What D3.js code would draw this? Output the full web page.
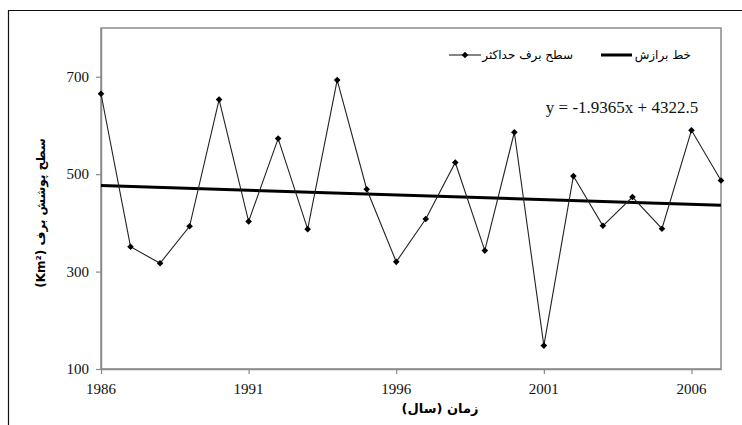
<!DOCTYPE html>
<html>
<head>
<meta charset="utf-8">
<script src="https://cdn.jsdelivr.net/npm/d3@7"></script>
<style>
  body { margin: 0; background: #fff; }
  svg { display: block; }
  .serif { font-family: 'Liberation Serif', 'Times New Roman', 'DejaVu Serif', serif; }
  .fa { font-family: 'DejaVu Sans', sans-serif; }
</style>
</head>
<body>
<svg width="742" height="425"></svg>
<script>
// data
const years = [1986, 1987, 1988, 1989, 1990, 1991, 1992, 1993, 1994, 1995, 1996,
               1997, 1998, 1999, 2000, 2001, 2002, 2003, 2004, 2005, 2006, 2007];
const snowArea = [665, 351, 317, 393, 653, 403, 573, 387, 693, 469, 320,
                  408, 524, 343, 586, 148, 496, 394, 453, 388, 590, 487];
const xTicks = [1986, 1991, 1996, 2001, 2006];
const yTicks = [100, 300, 500, 700];

// fitted line from the equation on the chart
const slope = -1.9365;
const intercept = 4322.5;
const trendYears = [1986, 2007];

const seriesLabel = 'سطح برف حداکثر';
const trendLabel = 'خط برازش';
const equationLabel = 'y = -1.9365x + 4322.5';
const xTitle = 'زمان (سال)';
const yTitle = 'سطح پوشش برف (Km²)';

const svg = d3.select('svg');
const width = +svg.attr('width');
const height = +svg.attr('height');

const gray = '#8a8a8a';

// outer frame (only top and left edges show)
svg.append('path')
    .attr('d', `M8.5,${height} V10.5 H${width}`)
    .attr('fill', 'none')
    .attr('stroke', '#111')
    .attr('stroke-width', 1.2);

const margin = { top: 28, right: 21, bottom: 56, left: 101 };
const innerWidth = width - margin.left - margin.right;
const innerHeight = height - margin.top - margin.bottom;

const g = svg.append('g')
    .attr('transform', `translate(${margin.left},${margin.top})`);

const x = d3.scaleLinear().domain([1986, 2007]).range([0, innerWidth]);
const y = d3.scaleLinear().domain([100, 800]).range([innerHeight, 0]);

// plot box
g.append('rect')
    .attr('width', innerWidth)
    .attr('height', innerHeight)
    .attr('fill', 'none')
    .attr('stroke', gray)
    .attr('stroke-width', 1.5);

// axes: lines and ticks from d3, labels drawn below from the same scales
const xAxis = g.append('g')
    .attr('transform', `translate(0,${innerHeight})`)
    .call(d3.axisBottom(x).tickValues(xTicks).tickFormat('').tickSize(5).tickSizeOuter(0));
const yAxis = g.append('g')
    .call(d3.axisLeft(y).tickValues(yTicks).tickFormat('').tickSize(5).tickSizeOuter(0));

[xAxis, yAxis].forEach(a => {
    a.select('.domain').attr('stroke', gray).attr('stroke-width', 1.5);
    a.selectAll('.tick line').attr('stroke', gray).attr('stroke-width', 1.2);
    a.selectAll('.tick text').remove();
});

g.selectAll('.xlab').data(xTicks)
    .enter().append('text')
        .attr('class', 'xlab serif')
        .attr('x', d => x(d))
        .attr('y', innerHeight + 25)
        .attr('text-anchor', 'middle')
        .attr('font-size', 15)
        .attr('fill', '#111')
        .text(d => d);

g.selectAll('.ylab').data(yTicks)
    .enter().append('text')
        .attr('class', 'ylab serif')
        .attr('x', -12)
        .attr('y', d => y(d) + 5)
        .attr('text-anchor', 'end')
        .attr('font-size', 15)
        .attr('fill', '#111')
        .text(d => d);

// trend line
g.append('line')
    .attr('x1', x(trendYears[0]))
    .attr('y1', y(slope * trendYears[0] + intercept))
    .attr('x2', x(trendYears[1]))
    .attr('y2', y(slope * trendYears[1] + intercept))
    .attr('stroke', '#000')
    .attr('stroke-width', 3);

// data series
const pts = years.map((yr, i) => ({ yr, v: snowArea[i] }));
g.append('path')
    .datum(pts)
    .attr('fill', 'none')
    .attr('stroke', '#222')
    .attr('stroke-width', 1.1)
    .attr('d', d3.line().x(d => x(d.yr)).y(d => y(d.v)));

const marker = d3.symbol().type(d3.symbolSquare).size(22);
g.selectAll('.pt').data(pts)
    .enter().append('path')
        .attr('class', 'pt')
        .attr('transform', d => `translate(${x(d.yr)},${y(d.v)}) rotate(45)`)
        .attr('d', marker)
        .attr('fill', '#000');

// legend
const legend = svg.append('g');
legend.append('line')
    .attr('x1', 449).attr('x2', 481).attr('y1', 55).attr('y2', 55)
    .attr('stroke', '#222').attr('stroke-width', 1.1);
legend.append('path')
    .attr('transform', 'translate(465,55) rotate(45)')
    .attr('d', marker)
    .attr('fill', '#000');
legend.append('text')
    .attr('class', 'fa')
    .attr('x', 573).attr('y', 59)
    .attr('direction', 'rtl')
    .attr('text-anchor', 'start')
    .attr('font-size', 12)
    .text(seriesLabel);
legend.append('line')
    .attr('x1', 601).attr('x2', 632).attr('y1', 55).attr('y2', 55)
    .attr('stroke', '#000').attr('stroke-width', 3);
legend.append('text')
    .attr('class', 'fa')
    .attr('x', 691).attr('y', 59)
    .attr('direction', 'rtl')
    .attr('text-anchor', 'start')
    .attr('font-size', 12)
    .text(trendLabel);

// equation
svg.append('text')
    .attr('class', 'serif')
    .attr('x', 622).attr('y', 113)
    .attr('text-anchor', 'middle')
    .attr('font-size', 17)
    .attr('fill', '#111')
    .text(equationLabel);

// axis titles
svg.append('text')
    .attr('class', 'fa')
    .attr('x', 440).attr('y', 413)
    .attr('text-anchor', 'middle')
    .attr('direction', 'rtl')
    .attr('font-size', 13)
    .attr('font-weight', 'bold')
    .text(xTitle);

svg.append('text')
    .attr('class', 'fa')
    .attr('transform', 'translate(45,213) rotate(-90)')
    .attr('text-anchor', 'middle')
    .attr('direction', 'rtl')
    .attr('font-size', 12)
    .attr('font-weight', 'bold')
    .text(yTitle);
</script>
</body>
</html>
